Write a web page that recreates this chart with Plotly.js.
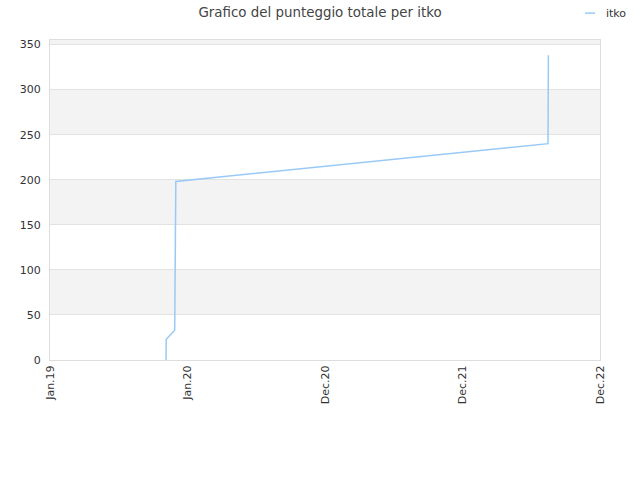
<!DOCTYPE html>
<html>
<head>
<meta charset="utf-8">
<script src="https://cdn.plot.ly/plotly-3.0.1.min.js"></script>
<style>
  html, body { margin: 0; padding: 0; background: #fff; }
  #chart { width: 640px; height: 480px; }
</style>
</head>
<body>
<div id="chart"></div>
<script>
// punteggio totale nel tempo
let dates = [
    '2019-11-05 00:00', '2019-11-05 12:00', '2019-11-28 00:00', '2019-11-28 12:00',
    '2019-11-29', '2019-12-01', '2022-08-15', '2022-08-16'
];
let scores = [0, 23, 33, 105, 106, 198, 240, 338];
let seriesName = 'itko';
let lineColor = '#99c9f6';

let tickDates = ['2019-01-01', '2020-01-01', '2020-12-31', '2021-12-31', '2022-12-31'];
let tickLabels = ['Jan.19', 'Jan.20', 'Dec.20', 'Dec.21', 'Dec.22'];
let yTicks = [0, 50, 100, 150, 200, 250, 300, 350];

// alternating grey bands behind the plot
let shapes = [];
for (let i = 1; i < yTicks.length; i += 2) {
    shapes.push({
        type: 'rect', xref: 'paper', yref: 'y', layer: 'below',
        x0: 0, x1: 1, y0: yTicks[i], y1: yTicks[i] + 50,
        fillcolor: '#f3f3f3', line: {width: 0}
    });
}

// small legend in the top right corner
shapes.push({
    type: 'line', xref: 'paper', yref: 'paper',
    x0: 0.9727, x1: 0.991, y0: 1.084, y1: 1.084,
    line: {color: lineColor, width: 1.5}
});

let trace = {
    x: dates,
    y: scores,
    name: seriesName,
    mode: 'lines',
    type: 'scatter',
    line: {color: lineColor, width: 1.5}
};

let layout = {
    width: 640,
    height: 480,
    font: {family: 'DejaVu Sans, sans-serif', size: 11, color: '#444'},
    title: {
        text: 'Grafico del punteggio totale per ' + seriesName,
        font: {size: 13.4, color: '#444'},
        x: 0.5, xanchor: 'center', y: 1 - 12 / 480, yanchor: 'middle'
    },
    margin: {l: 50, r: 40, t: 40, b: 120, autoexpand: false},
    paper_bgcolor: '#fff',
    plot_bgcolor: '#fff',
    showlegend: false,
    xaxis: {
        type: 'date',
        range: [tickDates[0], tickDates[tickDates.length - 1]],
        tickmode: 'array',
        tickvals: tickDates,
        ticktext: tickLabels,
        tickangle: -90,
        showgrid: false,
        zeroline: false,
        showline: true, mirror: true, linecolor: '#dddddd', linewidth: 1,
        ticks: '',
        tickfont: {size: 11, color: '#333'}
    },
    yaxis: {
        range: [0, 355],
        tickmode: 'array',
        tickvals: yTicks,
        showgrid: true, gridcolor: '#e2e2e2',
        zeroline: false,
        showline: true, mirror: true, linecolor: '#dddddd', linewidth: 1,
        ticks: 'outside', ticklen: 6, tickcolor: 'rgba(0,0,0,0)',
        tickfont: {size: 11, color: '#333'}
    },
    shapes: shapes,
    annotations: [{
        xref: 'paper', yref: 'paper', x: 1.007, y: 1.084,
        xanchor: 'left', yanchor: 'middle', showarrow: false,
        text: seriesName, font: {size: 11, color: '#333'}
    }]
};

Plotly.newPlot('chart', [trace], layout, {displayModeBar: false, staticPlot: true});
</script>
</body>
</html>
